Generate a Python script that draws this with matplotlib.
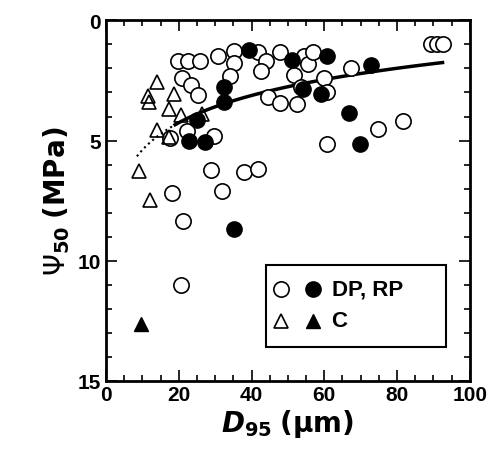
import matplotlib
matplotlib.use('Agg')
import matplotlib.pyplot as plt
from matplotlib.ticker import MultipleLocator
import numpy as np

plt.rcParams['font.family'] = ['Liberation Sans', 'DejaVu Sans']

open_x = [19.8, 22.6, 25.8, 30.7, 35.1, 35.1, 34.2, 41.7, 43.9, 42.7, 47.9, 54.5, 55.4, 57.0,
          51.7, 53.7, 59.8, 60.7, 67.4, 89.3, 91.1, 92.5, 20.8, 23.3, 25.3, 44.5, 47.9, 52.4,
          22.3, 17.5, 29.6, 60.7, 74.8, 81.7, 28.8, 38.0, 41.7, 18.2, 32.0, 21.2, 20.5]
open_y = [1.68, 1.68, 1.68, 1.49, 1.26, 1.79, 2.3, 1.3, 1.7, 2.1, 1.3, 1.5, 1.8, 1.3,
          2.28, 2.76, 2.4, 3.0, 1.96, 0.96, 0.96, 0.96, 2.39, 2.7, 3.1, 3.18, 3.42, 3.5,
          4.6, 4.9, 4.8, 5.13, 4.5, 4.2, 6.24, 6.3, 6.2, 7.2, 7.1, 8.35, 11.03]
fill_x = [39.2, 51.0, 60.7, 72.9, 32.5, 32.5, 54.2, 59.1, 24.9, 22.8, 27.1, 66.7, 69.7, 35.1]
fill_y = [1.24, 1.66, 1.47, 1.86, 2.76, 3.39, 2.87, 3.08, 4.15, 5.0, 5.08, 3.85, 5.13, 8.67]
otri_x = [14.0, 11.5, 11.7, 18.6, 17.3, 20.5, 26.5, 14.0, 17.3, 9.0, 12.0]
otri_y = [2.56, 3.14, 3.39, 3.08, 3.7, 3.95, 3.9, 4.57, 4.85, 6.28, 7.48]
ftri_x = [9.6]
ftri_y = [12.65]

# log fit drawn through the points
fit_a, fit_b = 9.16, 1.636

fig = plt.figure(figsize=(4.93, 4.77), dpi=100)
ax = fig.add_axes([0.215, 0.2, 0.738, 0.755])

xs = np.linspace(19, 92.5, 100)
ax.plot(xs, fit_a - fit_b * np.log(xs), 'k-', lw=2.5)
xd = np.linspace(8.5, 19, 30)
ax.plot(xd, fit_a - fit_b * np.log(xd), 'k:', lw=1.5)

ms = 11
ax.plot(open_x, open_y, 'o', mfc='white', mec='black', mew=1.2, ms=ms, ls='none')
ax.plot(fill_x, fill_y, 'o', mfc='black', mec='black', ms=ms, ls='none')
ax.plot(otri_x, otri_y, '^', mfc='none', mec='black', mew=1.2, ms=10, ls='none')
ax.plot(ftri_x, ftri_y, '^', mfc='black', mec='black', ms=10, ls='none')

ax.set_xlim(0, 100)
ax.set_ylim(15, 0)
ax.xaxis.set_major_locator(MultipleLocator(20))
ax.xaxis.set_minor_locator(MultipleLocator(5))
ax.yaxis.set_major_locator(MultipleLocator(5))
ax.yaxis.set_minor_locator(MultipleLocator(1))
ax.tick_params(which='both', direction='in', top=True, right=True, width=1.2)
ax.tick_params(which='major', length=8, labelsize=15)
ax.tick_params(which='minor', length=4)
for lab in ax.get_xticklabels() + ax.get_yticklabels():
    lab.set_fontweight('bold')
for s in ax.spines.values():
    s.set_linewidth(2)

ax.set_xlabel(r'$\bfit{D}_{\bf 95}$ $\bf(\mu m)$', fontsize=20, labelpad=2)
ax.set_ylabel(r'$\mathit{\Psi}_{\bf 50}$ $\bf(MPa)$', fontsize=20, labelpad=4)

# legend box
ax.add_patch(plt.Rectangle((44, 10.2), 49.5, 3.4, fill=False, lw=1.5, zorder=5))
ax.plot([48], [11.2], 'o', mfc='white', mec='black', mew=1.2, ms=ms)
ax.plot([57], [11.2], 'o', mfc='black', mec='black', ms=ms)
ax.plot([48], [12.5], '^', mfc='none', mec='black', mew=1.2, ms=10)
ax.plot([57], [12.5], '^', mfc='black', mec='black', ms=10)
ax.text(62, 11.2, 'DP, RP', fontsize=16, fontweight='bold', va='center')
ax.text(62, 12.5, 'C', fontsize=16, fontweight='bold', va='center')

fig.savefig('out.png', dpi=100)
